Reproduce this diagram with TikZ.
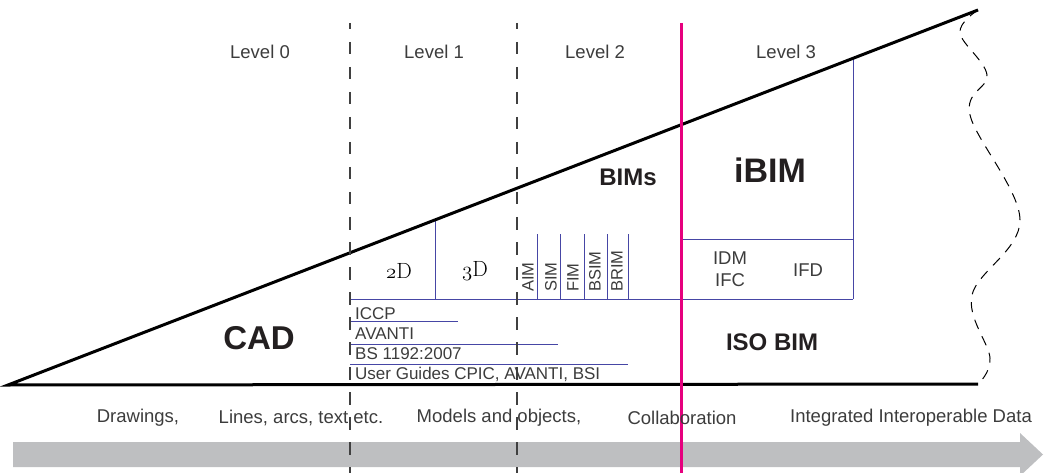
\documentclass[tikz,border=0pt]{standalone}
\usepackage{fontspec}
\newfontfamily\hv{Liberation Sans}
\definecolor{bluel}{RGB}{70,70,165}
\definecolor{pinkl}{RGB}{230,0,126}
\definecolor{txt}{RGB}{60,60,60}
\definecolor{bold}{RGB}{35,31,32}
\definecolor{arrowgray}{RGB}{190,191,193}
\newcommand{\fsz}[1]{\fontsize{#1}{#1}\selectfont}
\tikzset{
  lvl/.style={font=\hv\fsz{18.5}, text=txt, inner sep=0pt},
  btm/.style={font=\hv\fsz{18.5}, text=txt, inner sep=0pt},
  std/.style={font=\hv\fsz{17}, text=txt, inner sep=0pt, anchor=base west},
  vtxt/.style={font=\hv\fsz{16.5}, text=txt, inner sep=0pt, rotate=90, anchor=west},
  big/.style={font=\hv\bfseries, text=bold, inner sep=0pt},
  blueline/.style={draw=bluel, line width=1pt},
  levelsep/.style={draw=black!75, line width=1.4pt, dash pattern=on 12.5pt off 12.5pt, dash phase=6pt},
}
\begin{document}
\begin{tikzpicture}[x=1pt,y=-1pt]
\useasboundingbox (0,0) rectangle (1049,473);
% bottom arrow
\fill[arrowgray] (13,442) -- (1020,442) -- (1020,433) -- (1043,454.5) -- (1020,476) -- (1020,467) -- (13,467) -- cycle;
% coordinates
\coordinate (L) at (8,385);
\coordinate (T) at (978,10);
\coordinate (R) at (978,384);
% blue structures
\draw[blueline] (350,299) -- (853,299);
\draw[blueline] (435,221) -- (435,299);
\foreach \x in {537,560,584,607,628} \draw[blueline] (\x,234) -- (\x,299);
\draw[blueline] (853,58) -- (853,299);
\draw[blueline] (681,239) -- (853,239);
\draw[blueline] (681,239) -- (681,299);
\draw[blueline] (350,321.5) -- (458,321.5);
\draw[blueline] (350,344) -- (558,344);
\draw[blueline] (350,364.5) -- (628,364.5);
% triangle
\draw[line width=3pt, line join=miter] (R) -- (L) -- (T);
\draw[black, line width=1pt, dash pattern=on 10pt off 8pt] plot[smooth, tension=0.6] coordinates {(978,10) (960,33) (987,75) (970,115) (1020,220) (972,295) (990,358) (978,384)};
% level separators
\draw[levelsep] (350,23) -- (350,473);
\draw[levelsep] (517,23) -- (517,473);
\draw[pinkl, line width=3pt] (681,23) -- (681,473);
% level labels
\node[lvl] (l0) at (260,52) {Level 0};
\node[lvl] (l1) at (434,52) {Level 1};
\node[lvl] (l2) at (595,52) {Level 2};
\node[lvl] (l3) at (786,52) {Level 3};
% big labels
\node[big, font=\hv\bfseries\fsz{33}] (cad) at (259,338) {CAD};
\node[big, font=\hv\bfseries\fsz{24}] (bims) at (628,177) {BIMs};
\node[big, font=\hv\bfseries\fsz{34}] (ibim) at (770,170) {iBIM};
\node[big, font=\hv\bfseries\fsz{24}] (iso) at (772,342) {ISO BIM};
% 2D 3D
\node[font=\fsz{22}, inner sep=0pt] (d2) at (399,271) {{\usefont{OML}{cmm}{m}{it}2}D};
\node[font=\fsz{22}, inner sep=0pt] (d3) at (475,271) {{\usefont{OML}{cmm}{m}{it}3}D};
% vertical labels
\node[vtxt] (aim) at (528,292) {AIM};
\node[vtxt] (sim) at (551,292) {SIM};
\node[vtxt] (fim) at (573,292) {FIM};
\node[vtxt] (bsim) at (595,292) {BSIM};
\node[vtxt] (brim) at (617,292) {BRIM};
% IDM etc
\node[lvl] (idm) at (730,258) {IDM};
\node[lvl] (ifc) at (730,280) {IFC};
\node[lvl] (ifd) at (808,270) {IFD};
% standards
\node[std] (iccp) at (355,319) {ICCP};
\node[std] (avanti) at (355,339) {AVANTI};
\node[std] (bs) at (355,359.5) {BS 1192:2007};
\node[std] (ug) at (355,379) {User Guides CPIC, AVANTI, BSI};
% bottom texts
\node[btm] (b1) at (138,418) {Drawings,};
\node[btm] (b2) at (301,418) {Lines, arcs, text etc.};
\node[btm] (b3) at (499,418) {Models and objects,};
\node[btm] (b4) at (682,418) {Collaboration};
\node[btm] (b5) at (911,418) {Integrated Interoperable Data};
\end{tikzpicture}
\end{document}
